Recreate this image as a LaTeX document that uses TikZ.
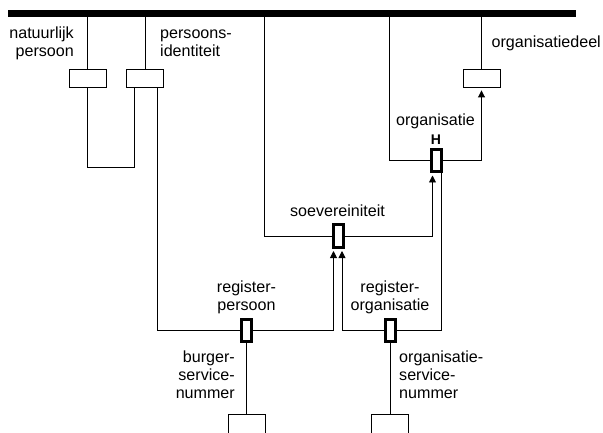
\documentclass[tikz,border=0pt]{standalone}
\usepackage{fontspec}
\setmainfont{Liberation Sans}
\usetikzlibrary{arrows.meta}
\begin{document}
\begin{tikzpicture}[x=1pt,y=-1pt,
  every node/.style={inner sep=0pt},
  wire/.style={line width=0.9pt},
  flow/.style={wire,-{Triangle[width=7pt,length=7pt]},shorten >=2.5pt},
  entity/.style={draw,line width=0.9pt,minimum width=37pt,minimum height=18pt,fill=white},
  link/.style={draw,line width=3pt,minimum width=10pt,minimum height=22pt,fill=white},
  lbl/.style={font=\fontsize{16.1}{18}\selectfont},
  hmark/.style={font=\fontsize{14}{16}\selectfont\bfseries}]
\useasboundingbox (0,0) rectangle (603,433);

% backbone bar
\node[fill=black,minimum width=568pt,minimum height=7pt] (bar) at (292,13.5) {};

% entity boxes
\node[entity] (np) at (87.5,78.5) {};
\node[entity] (pi) at (145,78.5) {};
\node[entity] (od) at (481.5,78.5) {};
\node[entity,minimum height=30pt] (bsn) at (246.5,429.5) {};
\node[entity,minimum height=30pt] (osn) at (390,429.5) {};

% relationship boxes
\node[link] (org) at (436,160.5) {};
\node[link] (soev) at (338,236) {};
\node[link] (regp) at (246.5,330.5) {};
\node[link] (rego) at (390,330.5) {};

% corner and attachment points
\coordinate (n1) at (87.5,167);
\coordinate (n2) at (134,167);
\coordinate (s1) at (264,236);
\coordinate (o1) at (389.5,160.5);
\coordinate (p1) at (157,330.5);
\coordinate (sa) at (333.5,236);
\coordinate (sb) at (342,236);
\coordinate (oa) at (432.5,160.5);
\coordinate (ob) at (441.5,160.5);

% lines from the bar
\draw[wire] (bar.south -| np.north) -- (np.north);
\draw[wire] (bar.south -| pi.north) -- (pi.north);
\draw[wire] (bar.south -| od.north) -- (od.north);
\draw[wire] (bar.south -| s1) -- (s1) -- (soev.west);
\draw[wire] (bar.south -| o1) -- (o1) -- (org.west);

% loop between natuurlijk persoon and persoonsidentiteit
\draw[wire] (np.south) -- (n1) -- (n2) -- (pi.south -| n2);

% registerpersoon
\draw[wire] (pi.south -| p1) -- (p1) -- (regp.west);
\draw[flow] (regp.east) -| (sa |- soev.south);
\draw[wire] (regp.south) -- (bsn.north);

% registerorganisatie
\draw[flow] (rego.west) -| (sb |- soev.south);
\draw[wire] (rego.east) -| (ob |- org.south);
\draw[wire] (rego.south) -- (osn.north);

% soevereiniteit and organisatie
\draw[flow] (soev.east) -| (oa |- org.south);
\draw[flow] (org.east) -| (od.south);

% labels (multi-line labels are placed by the baseline of their last line)
\node[lbl,align=right,anchor=base east] (tnp) at (74,56.5) {natuurlijk\\persoon};
\node[lbl,align=left,anchor=base west] (tpi) at (160,56.5) {persoons-\\identiteit};
\node[lbl,anchor=base east] (tod) at (601,48) {organisatiedeel};
\node[lbl,anchor=base] (torg) at (435.5,126) {organisatie};
\node[hmark,anchor=base] (th) at (436,144.5) {H};
\node[lbl,anchor=base] (tsoev) at (337.5,216.5) {soevereiniteit};
\node[lbl,align=center,anchor=base] (tregp) at (246.5,310) {register-\\persoon};
\node[lbl,align=center,anchor=base] (trego) at (390,310) {register-\\organisatie};
\node[lbl,align=right,anchor=base east] (tbsn) at (235,398) {burger-\\service-\\nummer};
\node[lbl,align=left,anchor=base west] (tosn) at (399,398) {organisatie-\\service-\\nummer};
\end{tikzpicture}
\end{document}
